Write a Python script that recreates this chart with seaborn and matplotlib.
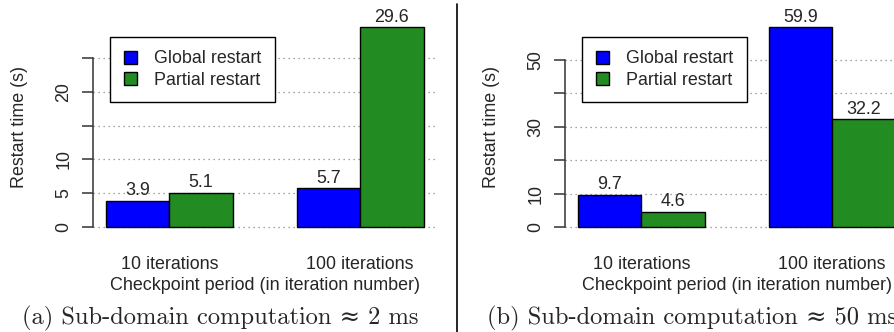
import numpy as np
import pandas as pd
import seaborn as sns
import matplotlib.pyplot as plt
from matplotlib.lines import Line2D

# data
periods = ['10 iterations', '100 iterations']
series = ['Global restart', 'Partial restart']
global_a = [3.9, 5.7]
partial_a = [5.1, 29.6]
global_b = [9.7, 59.9]
partial_b = [4.6, 32.2]
yticks_a = [0, 5, 10, 15, 20, 25]
ylabels_a = ['0', '5', '10', '', '20', '']
yticks_b = [0, 10, 20, 30, 40, 50]
ylabels_b = ['0', '10', '', '30', '', '50']
captions = ['(a) Sub-domain computation \u2248 2 ms',
            '(b) Sub-domain computation \u2248 50 ms']
colors = {'Global restart': '#0000ff', 'Partial restart': '#228b22'}

sns.set_style("white")
plt.rcParams['font.family'] = ['Liberation Sans', 'DejaVu Sans']
fs = 12.9

W, H = 894, 332
fig = plt.figure(figsize=(W / 100, H / 100), dpi=100)


def panel(left_px, glob, part, ticks, labels, ylim, caption, cap_x):
    ax = fig.add_axes([left_px / W, (H - 235) / H, 344 / W, 216 / H])
    df = pd.DataFrame({
        'Period': periods * 2,
        'Series': [series[0]] * 2 + [series[1]] * 2,
        'Time': glob + part})
    sns.barplot(data=df, x='Period', y='Time', hue='Series', palette=colors,
                width=2 / 3, saturation=1, edgecolor='black', linewidth=1,
                ax=ax)
    for c in ax.containers:
        ax.bar_label(c, fmt='%.1f', padding=1, fontsize=fs)
    ax.set_xlim(-0.4, 1.403)
    ax.set_ylim(*ylim)
    ax.set_yticks(ticks)
    ax.set_yticklabels(labels, rotation=90, va='center', fontsize=fs)
    ax.yaxis.grid(True, linestyle=(0, (1, 3)), color='#888888', linewidth=0.9)
    ax.set_axisbelow(True)
    for s in ['top', 'right', 'bottom']:
        ax.spines[s].set_visible(False)
    ax.spines['left'].set_bounds(ticks[0], ticks[-1])
    ax.spines['left'].set_color('#333333')
    ax.spines['left'].set_linewidth(1.1)
    ax.tick_params(axis='y', length=8, width=1.1, color='#333333', pad=7,
                   left=True)
    ax.tick_params(axis='x', length=0, pad=15, labelsize=fs)
    ax.set_xlabel('Checkpoint period (in iteration number)', fontsize=fs,
                  labelpad=3)
    ax.set_ylabel('Restart time (s)', fontsize=fs)
    ax.yaxis.set_label_coords(-0.19, 0.5)
    sns.move_legend(ax, loc='upper left', bbox_to_anchor=(0.05, 0.917),
                    title=None, frameon=True, fancybox=False, framealpha=1,
                    edgecolor='black', fontsize=fs, handlelength=0.75,
                    handleheight=0.75, handletextpad=0.95, borderpad=0.75,
                    labelspacing=0.25, borderaxespad=0)
    ax.get_legend().get_frame().set_linewidth(1)
    fig.text(cap_x / W, 14 / H, caption, ha='left', va='center',
             fontsize=17.6, family=['cmr10', 'DejaVu Serif'])
    return ax


panel(93, global_a, partial_a, yticks_a, ylabels_a, (-1.184, 30.784),
      captions[0], 22)
panel(565, global_b, partial_b, yticks_b, ylabels_b, (-2.4, 62.3),
      captions[1], 487)

fig.add_artist(Line2D([457 / W, 457 / W], [0, 1 - 4 / H],
                      transform=fig.transFigure, color='black', linewidth=1.2))

fig.savefig('out.png', dpi=100)
